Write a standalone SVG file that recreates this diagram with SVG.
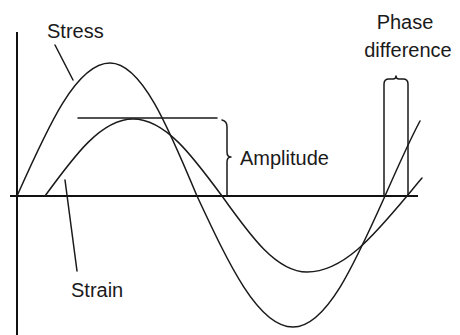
<svg xmlns="http://www.w3.org/2000/svg" width="460" height="335" viewBox="0 0 460 335">
<style>
.ln{fill:none;stroke:#1a1a1a;stroke-width:1.5;stroke-linecap:round;stroke-linejoin:round}
.ax{fill:none;stroke:#111;stroke-width:2}
.t{font-family:"Liberation Sans",Arial,sans-serif;font-size:20px;fill:#1a1a1a}
</style>
<rect width="460" height="335" fill="#fff"/>
<g id="axes">
<line class="ax" x1="17" y1="32" x2="17" y2="335"/>
<line class="ax" x1="10" y1="196" x2="418" y2="196"/>
</g>
<g id="stress-curve">
<path class="ln" d="M17,196 C48.1,126.2 76.4,63 110,63 C141.5,63 167.9,126.2 197,196 C229.1,264.8 258.3,327 293,327 C326.3,327 354.2,264.8 385,196 C396.7,169.5 408.3,142.9 420,121"/>
</g>
<g id="strain-curve">
<path class="ln" d="M45,196 C74.4,155.6 101.2,119 133,119 C165.2,119 192.2,155.6 222,196 C250.4,235.9 276.3,272 307,272 C343.2,272 373.6,235.9 407,196 C412,190 417,183.8 422,178"/>
</g>
<g id="stress-label">
<text class="t" x="47" y="38">Stress</text>
<line class="ln" x1="55" y1="45" x2="73" y2="80"/>
</g>
<g id="strain-label">
<text class="t" x="71" y="297">Strain</text>
<line class="ln" x1="65" y1="180" x2="77" y2="271"/>
</g>
<g id="amplitude">
<line class="ln" x1="78" y1="118" x2="217" y2="118"/>
<path class="ln" d="M222,120 Q227,121 227,127 L227,152 Q227,157 231,157 Q227,157 227,162 L227,196"/>
<text class="t" x="240" y="165">Amplitude</text>
</g>
<g id="phase-difference">
<path class="ln" d="M384,196 L384,84 Q384,79 389,79 L393,79 Q396,79 396,76 Q396,79 399,79 L403,79 Q408,79 408,84 L408,196"/>
<text class="t" x="405" y="29" text-anchor="middle">Phase</text>
<text class="t" x="408" y="57" text-anchor="middle">difference</text>
</g>
</svg>
